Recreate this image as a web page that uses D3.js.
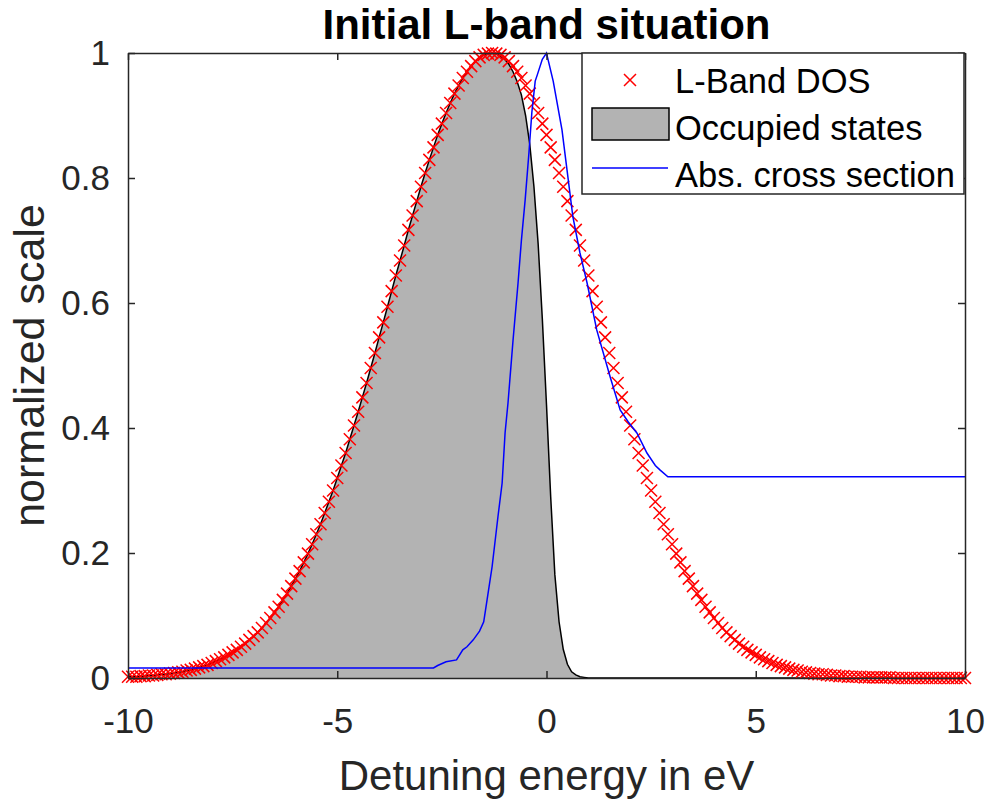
<!DOCTYPE html>
<html>
<head>
<meta charset="utf-8">
<script src="https://cdn.jsdelivr.net/npm/d3@7"></script>
<style>
  body { margin: 0; background: #fff; }
  text { font-family: "Liberation Sans", Arial, sans-serif; }
</style>
</head>
<body>
<div id="chart"></div>
<script>
// energy grid of the DOS samples (eV)
var energyStart = -10
var energyStep = 0.1

// L-band density of states, one value per grid point
var dos = [
  0.002, 0.002, 0.002, 0.003, 0.003, 0.004, 0.004, 0.005, 0.006, 0.006,
  0.007, 0.008, 0.009, 0.010, 0.012, 0.013, 0.015, 0.017, 0.019, 0.021,
  0.024, 0.027, 0.030, 0.033, 0.037, 0.041, 0.045, 0.050, 0.055, 0.061,
  0.067, 0.073, 0.080, 0.088, 0.096, 0.105, 0.114, 0.125, 0.135, 0.147,
  0.159, 0.171, 0.185, 0.199, 0.214, 0.230, 0.246, 0.264, 0.282, 0.300,
  0.320, 0.340, 0.360, 0.382, 0.404, 0.426, 0.449, 0.472, 0.496, 0.520,
  0.545, 0.569, 0.594, 0.619, 0.644, 0.668, 0.692, 0.717, 0.740, 0.763,
  0.786, 0.808, 0.829, 0.849, 0.869, 0.887, 0.904, 0.920, 0.935, 0.948,
  0.960, 0.970, 0.979, 0.987, 0.993, 0.997, 0.999, 1.000, 0.999, 0.997,
  0.993, 0.987, 0.979, 0.970, 0.960, 0.948, 0.935, 0.920, 0.904, 0.887,
  0.869, 0.849, 0.829, 0.808, 0.786, 0.763, 0.740, 0.717, 0.692, 0.668,
  0.644, 0.619, 0.594, 0.569, 0.545, 0.520, 0.496, 0.472, 0.449, 0.426,
  0.404, 0.382, 0.360, 0.340, 0.320, 0.300, 0.282, 0.264, 0.246, 0.230,
  0.214, 0.199, 0.185, 0.171, 0.159, 0.147, 0.135, 0.125, 0.114, 0.105,
  0.096, 0.088, 0.080, 0.073, 0.067, 0.061, 0.055, 0.050, 0.045, 0.041,
  0.037, 0.033, 0.030, 0.027, 0.024, 0.021, 0.019, 0.017, 0.015, 0.013,
  0.012, 0.010, 0.009, 0.008, 0.007, 0.006, 0.006, 0.005, 0.004, 0.004,
  0.003, 0.003, 0.002, 0.002, 0.002, 0.002, 0.001, 0.001, 0.001, 0.001,
  0.001, 0.001, 0.001, 0, 0, 0, 0, 0, 0, 0,
  0, 0, 0, 0, 0, 0, 0, 0, 0, 0,
  0
]

// occupied states on the same grid
var occupied = [
  0.002, 0.002, 0.002, 0.003, 0.003, 0.004, 0.004, 0.005, 0.006, 0.006,
  0.007, 0.008, 0.009, 0.010, 0.012, 0.013, 0.015, 0.017, 0.019, 0.021,
  0.024, 0.027, 0.030, 0.033, 0.037, 0.041, 0.045, 0.050, 0.055, 0.061,
  0.067, 0.073, 0.080, 0.088, 0.096, 0.105, 0.114, 0.125, 0.135, 0.147,
  0.159, 0.171, 0.185, 0.199, 0.214, 0.230, 0.246, 0.264, 0.282, 0.300,
  0.320, 0.340, 0.360, 0.382, 0.404, 0.426, 0.449, 0.472, 0.496, 0.520,
  0.545, 0.569, 0.594, 0.619, 0.644, 0.668, 0.692, 0.717, 0.740, 0.763,
  0.786, 0.808, 0.829, 0.849, 0.869, 0.887, 0.904, 0.920, 0.935, 0.948,
  0.960, 0.970, 0.979, 0.987, 0.993, 0.997, 0.999, 1.000, 0.999, 0.995,
  0.990, 0.982, 0.970, 0.954, 0.933, 0.900, 0.854, 0.786, 0.695, 0.575,
  0.437, 0.290, 0.165, 0.090, 0.046, 0.022, 0.010, 0.005, 0.002, 0.001,
  0, 0, 0, 0, 0, 0, 0, 0, 0, 0,
  0, 0, 0, 0, 0, 0, 0, 0, 0, 0,
  0, 0, 0, 0, 0, 0, 0, 0, 0, 0,
  0, 0, 0, 0, 0, 0, 0, 0, 0, 0,
  0, 0, 0, 0, 0, 0, 0, 0, 0, 0,
  0, 0, 0, 0, 0, 0, 0, 0, 0, 0,
  0, 0, 0, 0, 0, 0, 0, 0, 0, 0,
  0, 0, 0, 0, 0, 0, 0, 0, 0, 0,
  0, 0, 0, 0, 0, 0, 0, 0, 0, 0,
  0
]

// absorption cross section (own sample points)
var absEnergy = [-10, -2.7, -2.6, -2.4, -2.15, -2.0, -1.9, -1.75, -1.6, -1.5,
  -1.42, -1.3, -1.16, -1.06, -0.99, -0.92, -0.8, -0.68, -0.6, -0.51,
  -0.42, -0.35, -0.27, -0.22, -0.1, 0, 0.16, 0.37, 0.49, 0.63,
  0.8, 0.97, 1.2, 1.52, 1.76, 1.95, 2.16, 2.4, 2.6, 2.71, 2.9, 10]
var absValue = [0.016, 0.016, 0.02, 0.026, 0.029, 0.045, 0.05, 0.061, 0.075, 0.09,
  0.125, 0.178, 0.258, 0.312, 0.392, 0.44, 0.54, 0.632, 0.7, 0.765,
  0.84, 0.905, 0.955, 0.965, 0.99, 1, 0.955, 0.877, 0.813, 0.738,
  0.68, 0.632, 0.557, 0.482, 0.429, 0.41, 0.392, 0.36, 0.34, 0.333, 0.322, 0.322]

var xTicks = [-10, -5, 0, 5, 10]
var yTicks = [0, 0.2, 0.4, 0.6, 0.8, 1]
var legendNames = ['L-Band DOS', 'Occupied states', 'Abs. cross section']

// layout
var dims = {
  width: 990,
  height: 805,
  left: 128,
  right: 965,
  top: 53,
  bottom: 678,
  tick: 7
}
var axisColor = '#262626'

var energy = dos.map(function(d, i) {
  return energyStart + i * energyStep
})

var xScale = d3.scaleLinear().domain([-10, 10]).range([dims.left, dims.right])
var yScale = d3.scaleLinear().domain([0, 1]).range([dims.bottom, dims.top])

var svg = d3
  .select('#chart')
  .append('svg')
  .attr('width', dims.width)
  .attr('height', dims.height)

// occupied states: gray area with black edge
var area = d3
  .area()
  .x(function(d, i) { return xScale(energy[i]) })
  .y0(yScale(0))
  .y1(function(d) { return yScale(d) })
var edge = d3
  .line()
  .x(function(d, i) { return xScale(energy[i]) })
  .y(function(d) { return yScale(d) })

svg.append('path')
  .attr('d', area(occupied))
  .attr('fill', '#b3b3b3')
svg.append('path')
  .attr('d', edge(occupied))
  .attr('fill', 'none')
  .attr('stroke', '#000')
  .attr('stroke-width', 1.5)

// DOS markers
function crossPath(s) {
  return 'M' + -s + ',' + -s + 'L' + s + ',' + s + 'M' + -s + ',' + s + 'L' + s + ',' + -s
}
svg.append('g')
  .selectAll('path')
  .data(dos)
  .enter()
  .append('path')
  .attr('transform', function(d, i) {
    return 'translate(' + xScale(energy[i]) + ',' + yScale(d) + ')'
  })
  .attr('d', crossPath(6))
  .attr('stroke', '#ff0000')
  .attr('stroke-width', 1.5)
  .attr('fill', 'none')

// absorption cross section
var absLine = d3
  .line()
  .x(function(d, i) { return xScale(absEnergy[i]) })
  .y(function(d) { return yScale(d) })
svg.append('path')
  .attr('d', absLine(absValue))
  .attr('fill', 'none')
  .attr('stroke', '#0000ff')
  .attr('stroke-width', 1.5)

// axes (ticks inside, box on)
function styleAxis(g) {
  g.selectAll('.domain').attr('stroke', axisColor).attr('stroke-width', 1.5)
  g.selectAll('.tick line').attr('stroke', axisColor).attr('stroke-width', 1.5)
  g.selectAll('.tick text')
    .attr('fill', axisColor)
    .style('font-family', '"Liberation Sans", Arial, sans-serif')
    .style('font-size', '35px')
}
var plainFormat = function(d) { return String(d) }

svg.append('g')
  .attr('transform', 'translate(0,' + dims.bottom + ')')
  .call(d3.axisBottom(xScale).tickValues(xTicks).tickSizeInner(-dims.tick).tickSizeOuter(0).tickPadding(30).tickFormat(plainFormat))
  .call(styleAxis)

svg.append('g')
  .attr('transform', 'translate(0,' + dims.top + ')')
  .call(d3.axisTop(xScale).tickValues(xTicks).tickSizeInner(-dims.tick).tickSizeOuter(0).tickFormat(''))
  .call(styleAxis)

svg.append('g')
  .attr('transform', 'translate(' + dims.left + ',0)')
  .call(d3.axisLeft(yScale).tickValues(yTicks).tickSizeInner(-dims.tick).tickSizeOuter(0).tickPadding(18).tickFormat(plainFormat))
  .call(styleAxis)

svg.append('g')
  .attr('transform', 'translate(' + dims.right + ',0)')
  .call(d3.axisRight(yScale).tickValues(yTicks).tickSizeInner(-dims.tick).tickSizeOuter(0).tickFormat(''))
  .call(styleAxis)

// title and labels
svg.append('text')
  .attr('x', (dims.left + dims.right) / 2)
  .attr('y', 39)
  .attr('text-anchor', 'middle')
  .attr('font-weight', 'bold')
  .attr('font-size', 42)
  .attr('fill', '#000')
  .text('Initial L-band situation')

svg.append('text')
  .attr('x', (dims.left + dims.right) / 2)
  .attr('y', 790)
  .attr('text-anchor', 'middle')
  .attr('font-size', 42)
  .attr('fill', axisColor)
  .text('Detuning energy in eV')

svg.append('text')
  .attr('transform', 'translate(44,' + (dims.top + dims.bottom) / 2 + ') rotate(-90)')
  .attr('text-anchor', 'middle')
  .attr('font-size', 43)
  .attr('fill', axisColor)
  .text('normalized scale')

// legend
var legend = svg.append('g').attr('transform', 'translate(582,53)')
legend.append('rect')
  .attr('width', 382)
  .attr('height', 141)
  .attr('fill', '#fff')
  .attr('stroke', axisColor)
  .attr('stroke-width', 1.5)

var textY = [40, 87, 134]
legend.append('path')
  .attr('transform', 'translate(48,27)')
  .attr('d', crossPath(6))
  .attr('stroke', '#ff0000')
  .attr('stroke-width', 1.5)
legend.append('rect')
  .attr('x', 10)
  .attr('y', 55)
  .attr('width', 77)
  .attr('height', 32)
  .attr('fill', '#b3b3b3')
  .attr('stroke', '#000')
  .attr('stroke-width', 1.5)
legend.append('line')
  .attr('x1', 10)
  .attr('x2', 86)
  .attr('y1', 115)
  .attr('y2', 115)
  .attr('stroke', '#0000ff')
  .attr('stroke-width', 1.5)

legend.selectAll('text.lab')
  .data(legendNames)
  .enter()
  .append('text')
  .attr('class', 'lab')
  .attr('x', 93)
  .attr('y', function(d, i) { return textY[i] })
  .attr('font-size', 34.5)
  .attr('fill', '#000')
  .text(function(d) { return d })
</script>
</body>
</html>
